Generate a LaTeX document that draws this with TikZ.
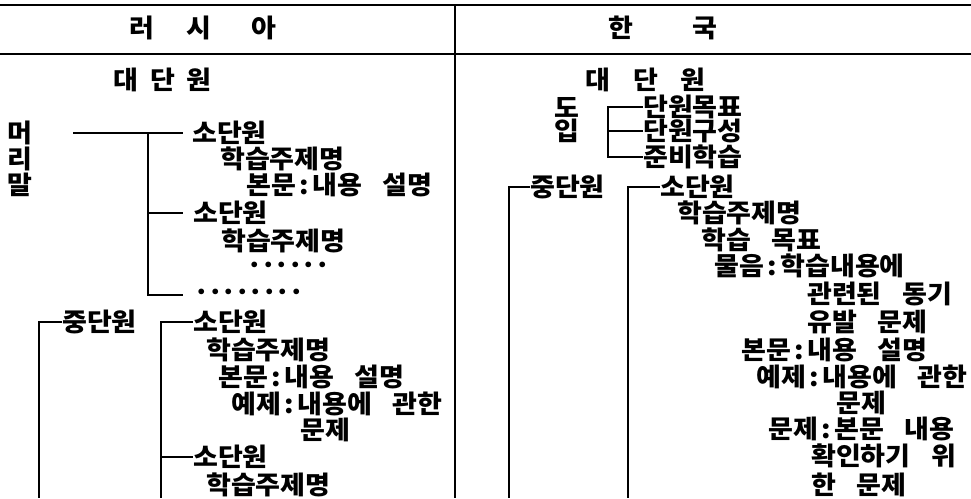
\documentclass[tikz,border=0pt]{standalone}
\usepackage{fontspec}
\setmainfont{Noto Sans CJK KR}[WordSpace=3.3, FakeStretch=1.06]
\newcommand\dotrow[1]{\foreach \k in {1,...,#1}{\makebox[13.5pt]{·}}}
\newcommand\cl{\hspace{3.5pt}:\hspace{3.5pt}}
\begin{document}
\begin{tikzpicture}[x=1pt,y=-1pt,
  txt/.style={anchor=west, inner sep=0pt, font=\bfseries\fontsize{25.5}{28}\selectfont},
  hdr/.style={anchor=center, inner sep=0pt, font=\bfseries\fontsize{25.5}{28}\selectfont},
  conn/.style={line width=1.2pt},
  rule/.style={line width=1.6pt}]
\useasboundingbox (0,0) rectangle (971,498);
% table rules
\coordinate (tl) at (0,5); \coordinate (tr) at (971,5);
\coordinate (hl) at (0,54); \coordinate (hr) at (971,54);
\coordinate (vt) at (455,5); \coordinate (vb) at (455,498);
\draw[rule] (tl) -- (tr);
\draw[rule] (hl) -- (hr);
\draw[rule] (vt) -- (vb);
% headers
\node[hdr] (hL) at (203,28) {러\hspace{32pt}시\hspace{41pt}아};
\node[hdr] (hR) at (663,28) {한\hspace{60pt}국};
% ---------- left column ----------
\node[txt] (dL) at (113,80) {대\hspace{12pt}단\hspace{12pt}원};
\node[txt] (m1) at (7,133) {머};
\node[txt] (m2) at (7,159) {리};
\node[txt] (m3) at (7,185) {말};
\node[txt] (s1) at (192,133) {소단원};
\node[txt] (t1) at (220,159) {학습주제명};
\node[txt] (b1) at (246,185) {본문\cl 내용 설명};
\node[txt] (s2) at (193,213) {소단원};
\node[txt] (t2) at (221,241) {학습주제명};
\node[txt] (d1) at (248,268) {\dotrow{6}};
\node[txt] (d2) at (195,295) {\dotrow{8}};
\node[txt] (lm) at (62,322) {중단원};
\node[txt] (s3) at (193,322) {소단원};
\node[txt] (t3) at (206,350) {학습주제명};
\node[txt] (b3) at (218,377) {본문\cl 내용 설명};
\node[txt] (e3) at (231,404) {예제\cl 내용에 관한};
\node[txt] (q3) at (300,430) {문제};
\node[txt] (s4) at (193,457) {소단원};
\node[txt] (t4) at (206,485) {학습주제명};
% left connectors
\coordinate (ma) at (73,133);
\coordinate (mj) at (148,133);
\coordinate (mb) at (148,295);
\draw[conn] (ma) -- ([xshift=-9pt]s1.west);
\draw[conn] (mj) -- (mb) -- ([xshift=-12pt]d2.west);
\draw[conn] (mj |- s2.west) -- ([xshift=-10pt]s2.west);
\coordinate (lmb) at (39,498);
\draw[conn] ([xshift=0pt]lm.west) -| (lmb);
\coordinate (lsb) at (161,498);
\draw[conn] ([xshift=0pt]s3.west) -| (lsb);
\draw[conn] (lsb |- s4.west) -- ([xshift=0pt]s4.west);
% ---------- right column ----------
\node[txt] (dR) at (585,80) {대\hspace{23pt}단\hspace{23pt}원};
\node[txt] (r1) at (554,107) {도};
\node[txt] (r2) at (554,131) {입};
\node[txt] (u1) at (643,107) {단원목표};
\node[txt] (u2) at (643,131) {단원구성};
\node[txt] (u3) at (643,157) {준비학습};
\node[txt] (rm) at (530,187) {중단원};
\node[txt] (rs) at (660,187) {소단원};
\node[txt] (rt) at (677,213) {학습주제명};
\node[txt] (rg) at (701,240) {학습 목표};
\node[txt] (rq1) at (714,266) {물음\cl 학습내용에};
\node[txt] (rq2) at (807,294) {관련된 동기};
\node[txt] (rq3) at (807,322) {유발 문제};
\node[txt] (rb) at (741,350) {본문\cl 내용 설명};
\node[txt] (re1) at (756,377) {예제\cl 내용에 관한};
\node[txt] (re2) at (836,403) {문제};
\node[txt] (rp1) at (768,429) {문제\cl 본문 내용};
\node[txt] (rp2) at (811,456) {확인하기 위};
\node[txt] (rp3) at (811,485) {한 문제};
% right connectors
\coordinate (bj) at (608,107);
\draw[conn] ([xshift=0pt]u1.west) -- (bj) -- (bj |- u3.west) -- ([xshift=0pt]u3.west);
\draw[conn] (bj |- u2.west) -- ([xshift=0pt]u2.west);
\coordinate (rmb) at (509,498);
\draw[conn] ([xshift=0pt]rm.west) -| (rmb);
\coordinate (rsb) at (628,498);
\draw[conn] ([xshift=0pt]rs.west) -| (rsb);
\end{tikzpicture}
\end{document}
